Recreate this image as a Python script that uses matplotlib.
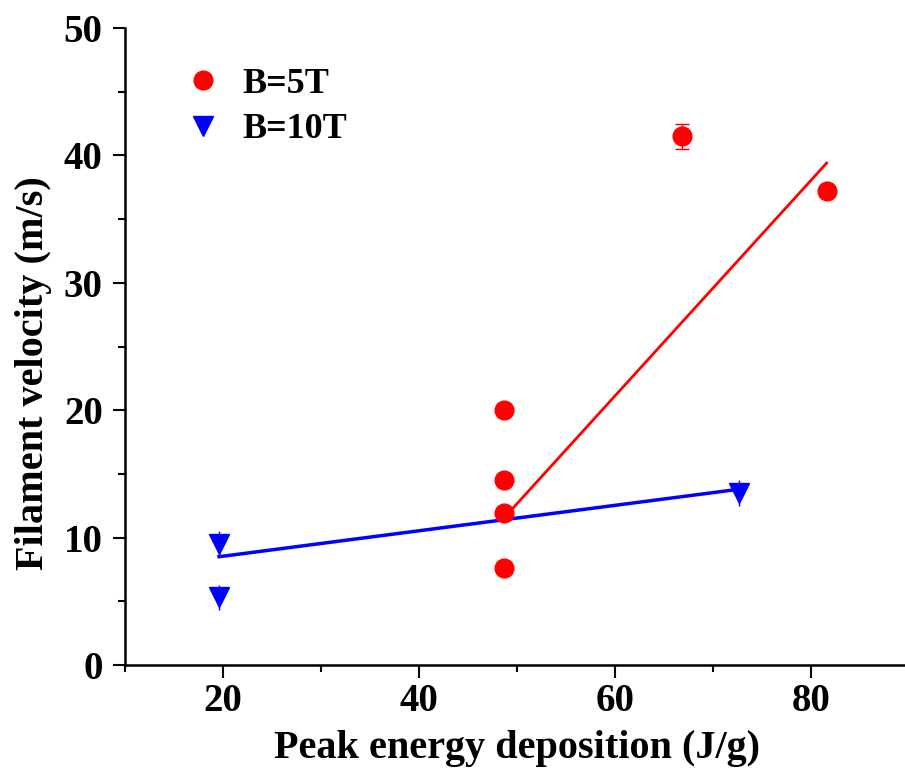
import numpy as np
import matplotlib.pyplot as plt
from matplotlib.lines import Line2D
from matplotlib.ticker import MultipleLocator

plt.rcParams['font.family'] = ['Liberation Serif', 'DejaVu Serif']
plt.rcParams['font.weight'] = 'bold'

# B=5T measurements
x_5t = [48.7, 48.7, 48.7, 48.7, 66.8, 81.6]
y_5t = [20.0, 14.5, 11.9, 7.6, 41.5, 37.2]
err_5t = [0, 0, 0, 0, 1.0, 0]

# B=10T measurements
x_10t = [19.6, 19.6, 72.7]
y_10t = [9.5, 5.3, 13.5]
err_10t = [1.0, 1.0, 1.0]

# fitted lines (end points)
fit_5t_x = [49.1, 81.6]
fit_5t_y = [11.9, 39.4]
fit_10t_x = [19.6, 72.7]
fit_10t_y = [8.5, 13.8]

fig = plt.figure(figsize=(9.05, 7.71), dpi=100)
ax = fig.add_axes([125 / 905, 106 / 771, 784 / 905, 637 / 771])

ax.plot(fit_5t_x, fit_5t_y, color='red', lw=2.0, zorder=2)
ax.plot(fit_10t_x, fit_10t_y, color='blue', lw=2.5, zorder=2)

ax.errorbar(x_5t, y_5t, yerr=err_5t, fmt='o', color='red', ms=13.5,
            elinewidth=1.0, capsize=5, capthick=1.0, zorder=3)
ax.errorbar(x_10t, y_10t, yerr=err_10t, fmt='v', color='blue', ms=15,
            elinewidth=1.0, capsize=0, zorder=3)

ax.set_xlim(10, 90)
ax.set_ylim(0, 50)
ax.xaxis.set_major_locator(MultipleLocator(20))
ax.xaxis.set_minor_locator(MultipleLocator(10))
ax.yaxis.set_major_locator(MultipleLocator(10))
ax.yaxis.set_minor_locator(MultipleLocator(5))

for side in ['top', 'right']:
    ax.spines[side].set_visible(False)
for side in ['left', 'bottom']:
    ax.spines[side].set_linewidth(1.8)
    ax.spines[side].set_clip_on(False)

ax.tick_params(which='major', length=9, width=1.5, labelsize=28)
ax.tick_params(axis='y', which='major', pad=7)
ax.tick_params(axis='x', which='major', pad=4)
ax.tick_params(which='minor', length=5, width=1.5)
for lab in ax.get_xticklabels() + ax.get_yticklabels():
    lab.set_fontweight('bold')

ax.set_xlabel('Peak energy deposition (J/g)', fontsize=29, fontweight='bold', labelpad=7)
ax.set_ylabel('Filament velocity (m/s)', fontsize=29, fontweight='bold')
ax.yaxis.set_label_coords(-0.093, 0.458)

handles = [
    Line2D([], [], ls='none', marker='o', color='red', ms=13.5),
    Line2D([], [], ls='none', marker='v', color='blue', ms=15),
]
leg = ax.legend(handles, ['B=5T', 'B=10T'], loc='upper left',
                bbox_to_anchor=(0.046, 0.961), frameon=False, fontsize=26,
                handletextpad=0.36, handlelength=1.5, labelspacing=0.35,
                borderaxespad=0)
for t in leg.get_texts():
    t.set_fontweight('bold')

fig.savefig('out.png', dpi=100)
